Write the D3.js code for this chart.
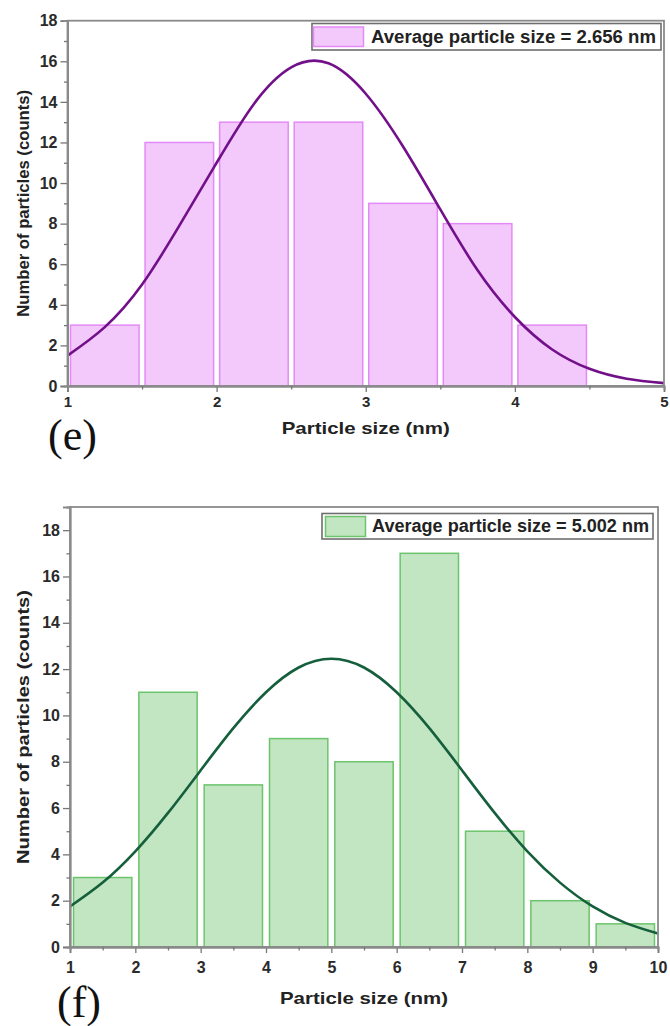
<!DOCTYPE html>
<html>
<head>
<meta charset="utf-8">
<script src="https://cdn.jsdelivr.net/npm/d3@7"></script>
<style>
  html, body { margin: 0; padding: 0; background: #fff; }
  svg { display: block; }
  text { font-family: "Liberation Sans", Arial, sans-serif; }
  text.tag { font-family: "Liberation Serif", "Times New Roman", serif; }
</style>
</head>
<body>
<svg id="chart" width="670" height="1026"></svg>
<script>
// ---- Panel (e): particle size histogram, 0.5 nm bins ----
const binStartE = [1, 1.5, 2, 2.5, 3, 3.5, 4];
const binWidthE = 0.5;
const countsE = [3, 12, 13, 13, 9, 8, 3];
// Gaussian fit curve, sampled every 0.25 nm
const fitXE = [1, 1.25, 1.5, 1.75, 2, 2.25, 2.5, 2.75, 3, 3.25, 3.5, 3.75, 4, 4.25, 4.5, 4.75, 5];
const fitYE = [1.5, 2.9, 5.0, 7.9, 11.0, 13.9, 15.7, 15.9, 14.4, 11.8, 8.7, 5.7, 3.4, 1.8, 0.85, 0.36, 0.14];
const xTicksE = [1, 2, 3, 4, 5];
const xMinorE = [1.5, 2.5, 3.5, 4.5];
const yTicksE = [0, 2, 4, 6, 8, 10, 12, 14, 16, 18];
const yMinorE = [1, 3, 5, 7, 9, 11, 13, 15, 17];
const legendE = "Average particle size = 2.656 nm";

// ---- Panel (f): particle size histogram, 1 nm bins ----
const binStartF = [1, 2, 3, 4, 5, 6, 7, 8, 9];
const binWidthF = 1;
const countsF = [3, 11, 7, 9, 8, 17, 5, 2, 1];
const fitXF = [1, 1.5, 2, 2.5, 3, 3.5, 4, 4.5, 5, 5.5, 6, 6.5, 7, 7.5, 8, 8.5, 9, 9.5, 10];
const fitYF = [1.75, 2.78, 4.13, 5.79, 7.63, 9.45, 11.0, 12.07, 12.45, 12.07, 11.0, 9.45, 7.63, 5.79, 4.13, 2.78, 1.75, 1.04, 0.58];
const xTicksF = [1, 2, 3, 4, 5, 6, 7, 8, 9, 10];
const xMinorF = [1.5, 2.5, 3.5, 4.5, 5.5, 6.5, 7.5, 8.5, 9.5];
const yTicksF = [0, 2, 4, 6, 8, 10, 12, 14, 16, 18];
const yMinorF = [1, 3, 5, 7, 9, 11, 13, 15, 17];
const legendF = "Average particle size = 5.002 nm";

const xTitle = "Particle size (nm)";
const yTitle = "Number of particles (counts)";

const svg = d3.select("#chart");

function drawPanel(p) {
  const x = d3.scaleLinear().domain(p.xDomain).range([p.left, p.right]);
  const y = d3.scaleLinear().domain(p.yDomain).range([p.bottom, p.top]);
  const g = svg.append("g");

  // histogram bars
  const bars = p.binStart.map((b, i) => ({ lo: b, hi: b + p.binWidth, n: p.counts[i] }));
  g.selectAll("rect.bar").data(bars).join("rect")
    .attr("class", "bar")
    .attr("x", d => x(d.lo) + p.inset)
    .attr("width", d => x(d.hi) - x(d.lo) - 2 * p.inset)
    .attr("y", d => y(d.n))
    .attr("height", d => y(0) - y(d.n))
    .attr("fill", p.fill)
    .attr("stroke", p.stroke)
    .attr("stroke-width", 1.5);

  // fitted distribution
  const line = d3.line()
    .x(d => x(d[0])).y(d => y(d[1]))
    .curve(d3.curveNatural);
  g.append("path")
    .datum(p.fitX.map((v, i) => [v, p.fitY[i]]))
    .attr("d", line)
    .attr("fill", "none")
    .attr("stroke", p.curve)
    .attr("stroke-width", 2.6);

  // frame
  g.append("rect")
    .attr("x", p.left).attr("y", p.top)
    .attr("width", p.right - p.left).attr("height", p.bottom - p.top)
    .attr("fill", "none").attr("stroke", "#8a8a8a").attr("stroke-width", 1.8);

  // bottom axis: major and minor ticks
  const xAxis = g.append("g").attr("transform", `translate(0,${p.bottom})`)
    .call(d3.axisBottom(x).tickValues(p.xTicks).tickSize(6).tickPadding(p.xPad).tickFormat(d3.format("d")));
  g.append("g").attr("transform", `translate(0,${p.bottom})`)
    .call(d3.axisBottom(x).tickValues(p.xMinor).tickSize(3.5).tickFormat(""));
  // left axis
  const yAxis = g.append("g").attr("transform", `translate(${p.left},0)`)
    .call(d3.axisLeft(y).tickValues(p.yTicks).tickSize(7).tickPadding(3).tickFormat(d3.format("d")));
  g.append("g").attr("transform", `translate(${p.left},0)`)
    .call(d3.axisLeft(y).tickValues(p.yMinor).tickSize(3.5).tickFormat(""));

  g.selectAll(".domain").attr("stroke", "#8a8a8a").attr("stroke-width", 1.8);
  g.selectAll(".tick line").attr("stroke", "#777").attr("stroke-width", 1.3);
  xAxis.selectAll("text").attr("font-size", p.xTickFont).attr("font-weight", "bold").attr("fill", "#2a2a2a");
  yAxis.selectAll("text").attr("font-size", 16).attr("font-weight", "bold").attr("fill", "#2a2a2a");

  // axis titles
  g.append("text")
    .attr("x", (p.left + p.right) / 2).attr("y", p.xTitleY)
    .attr("text-anchor", "middle")
    .attr("font-size", 17).attr("font-weight", "bold").attr("fill", "#222")
    .attr("textLength", 168).attr("lengthAdjust", "spacingAndGlyphs")
    .text(xTitle);
  g.append("text")
    .attr("transform", `translate(29,${(p.top + p.bottom) / 2}) rotate(-90)`)
    .attr("text-anchor", "middle")
    .attr("font-size", p.yTitleFont).attr("font-weight", "bold").attr("fill", "#222")
    .attr("textLength", p.yTitleLen).attr("lengthAdjust", "spacingAndGlyphs")
    .text(yTitle);

  // legend
  const L = p.legend;
  g.append("rect")
    .attr("x", L.x).attr("y", L.y).attr("width", L.w).attr("height", L.h)
    .attr("fill", "#fff").attr("stroke", "#6e6e6e").attr("stroke-width", 1.6);
  g.append("rect")
    .attr("x", L.sx).attr("y", L.sy).attr("width", L.sw).attr("height", L.sh)
    .attr("fill", p.fill).attr("stroke", p.stroke).attr("stroke-width", 1.5);
  g.append("text")
    .attr("x", L.tx).attr("y", L.ty)
    .attr("font-size", 18).attr("font-weight", "bold").attr("fill", "#222")
    .attr("textLength", L.tl).attr("lengthAdjust", "spacingAndGlyphs")
    .text(p.legendText);

  // panel letter
  g.append("text")
    .attr("class", "tag")
    .attr("x", p.tag.x).attr("y", p.tag.y)
    .attr("font-size", 44).attr("fill", "#111")
    .text(p.tag.text);
}

drawPanel({
  xDomain: [1, 5], yDomain: [0, 18],
  left: 67.5, right: 664, top: 20.7, bottom: 386,
  binStart: binStartE, binWidth: binWidthE, counts: countsE, inset: 3,
  fitX: fitXE, fitY: fitYE,
  xTicks: xTicksE, xMinor: xMinorE, yTicks: yTicksE, yMinor: yMinorE,
  fill: "#f3c9fc", stroke: "#e48af6", curve: "#72108a",
  xPad: 4, xTickFont: 15, xTitleY: 434,
  yTitleFont: 16.5, yTitleLen: 227,
  legendText: legendE,
  legend: { x: 312, y: 23.5, w: 349, h: 26.5, sx: 313.5, sy: 27, sw: 50, sh: 19.5, tx: 371, ty: 42.5, tl: 285 },
  tag: { text: "(e)", x: 48, y: 450 }
});

drawPanel({
  xDomain: [1, 10], yDomain: [0, 19],
  left: 70, right: 658, top: 507, bottom: 947,
  binStart: binStartF, binWidth: binWidthF, counts: countsF, inset: 3.5,
  fitX: fitXF, fitY: fitYF,
  xTicks: xTicksF, xMinor: xMinorF, yTicks: yTicksF, yMinor: yMinorF,
  fill: "#c2e5c2", stroke: "#6cc46c", curve: "#155f3c",
  xPad: 9, xTickFont: 16, xTitleY: 1004,
  yTitleFont: 17, yTitleLen: 274,
  legendText: legendF,
  legend: { x: 322, y: 513.5, w: 331, h: 25.5, sx: 325.5, sy: 516.5, sw: 40, sh: 20, tx: 372, ty: 532, tl: 277 },
  tag: { text: "(f)", x: 57, y: 1017 }
});
</script>
</body>
</html>
